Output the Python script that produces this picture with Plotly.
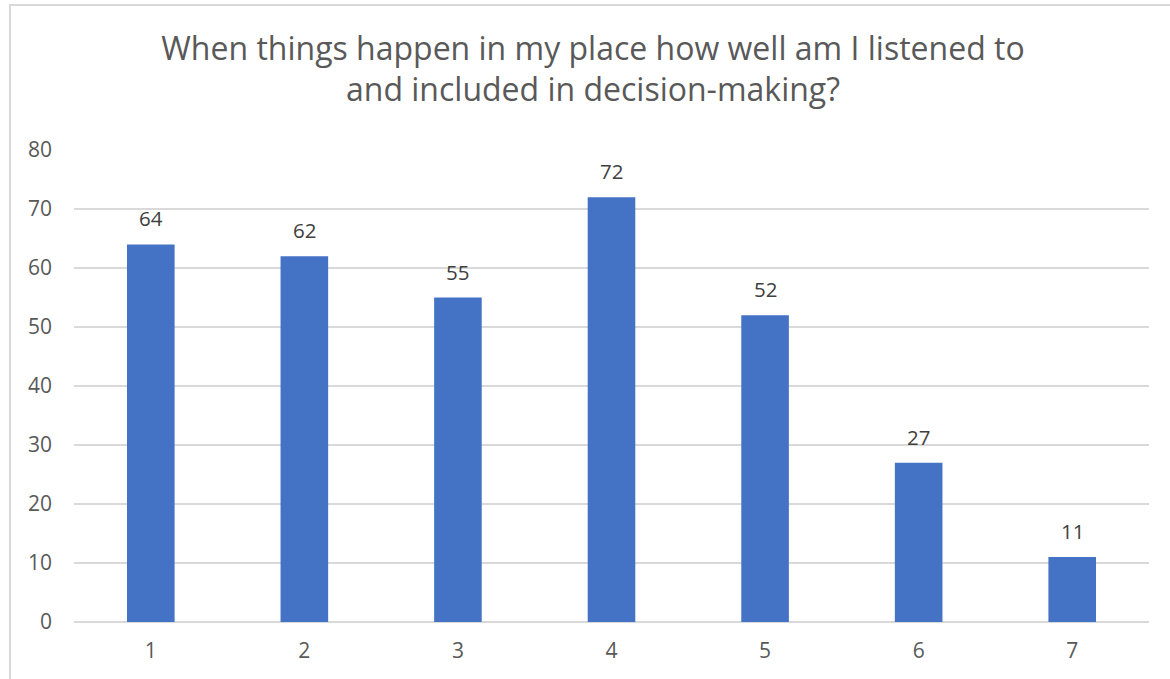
import plotly.graph_objects as go

categories = ["1", "2", "3", "4", "5", "6", "7"]
values = [64, 62, 55, 72, 52, 27, 11]
y_ticks = [0, 10, 20, 30, 40, 50, 60, 70, 80]

W, H = 1170, 679
L, R, T, B = 74, 21, 150, 57
pw, ph = W - L - R, H - T - B

fig = go.Figure(go.Bar(
    x=categories, y=values,
    marker=dict(color="#4472C4", line=dict(width=0)),
    hoverinfo="x+y",
))

annotations = [
    dict(x=i, y=v, xref="x", yref="y", text=str(v), showarrow=False,
         yanchor="bottom", xanchor="center", yshift=10,
         font=dict(size=20.5, color="#404040", family="Open Sans"))
    for i, v in enumerate(values)
]

fig.update_layout(
    width=W, height=H,
    margin=dict(l=L, r=R, t=T, b=B),
    paper_bgcolor="white", plot_bgcolor="white",
    bargap=0.69,
    title=dict(
        text="When things happen in my place how well am I listened to<br>and included in decision-making?",
        x=(593 / W), xanchor="center", y=0.912, yanchor="top",
        font=dict(size=32, color="#595959", family="Open Sans"),
    ),
    xaxis=dict(
        type="category", showgrid=False, showline=False, ticks="",
        ticklabelstandoff=14,
        tickfont=dict(size=21, color="#595959", family="Open Sans"),
    ),
    yaxis=dict(
        range=[0, 80], tickvals=y_ticks, showgrid=True, gridcolor="#D9D9D9", gridwidth=1.5,
        zeroline=True, zerolinecolor="#D9D9D9", zerolinewidth=1.5,
        showline=False, ticks="", ticklabelstandoff=21,
        tickfont=dict(size=21, color="#595959", family="Open Sans"),
    ),
    showlegend=False,
    annotations=annotations,
    shapes=[dict(
        type="rect", xref="paper", yref="paper",
        x0=(10 - L) / pw, x1=1.1, y0=-0.3, y1=(H - B - 5) / ph,
        line=dict(color="#D9D9D9", width=2), fillcolor="rgba(0,0,0,0)", layer="below",
    )],
)

fig.write_html("out.html", config={"displayModeBar": False},
               post_script="document.body.style.margin='0';document.body.style.overflow='hidden';")
